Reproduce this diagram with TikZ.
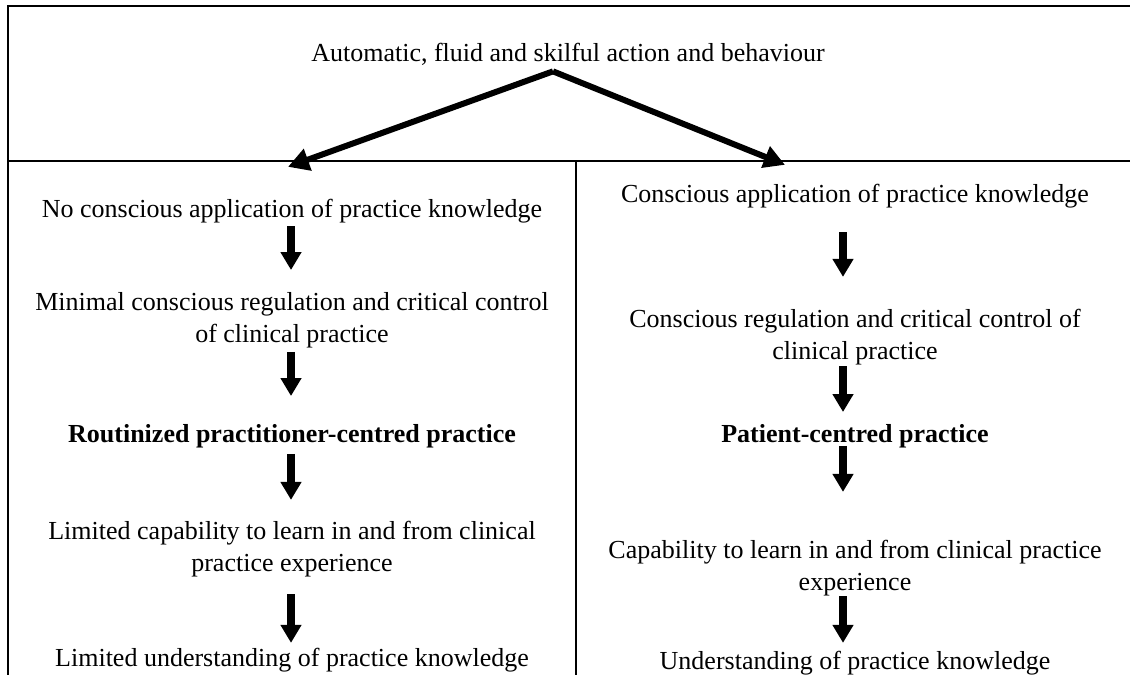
\documentclass[tikz,border=0pt]{standalone}
\usepackage{fontspec}
\setmainfont{Liberation Serif}
\usetikzlibrary{arrows.meta}
\begin{document}
\begin{tikzpicture}[x=1pt,y=-1pt,
  txt/.style={inner sep=0pt,align=center,font=\fontsize{26}{32}\selectfont},
  frame/.style={line width=2.6pt},
  bigarrow/.style={line width=6pt,-{Triangle[length=21pt,width=22pt]}},
  flow/.style={line width=8pt,-{Triangle[length=18pt,width=20pt]}}]
\useasboundingbox (0,0) rectangle (1130,675);
% frame
\draw[frame] (1130,6) -- (8,6) -- (8,675);
\draw[frame] (8,161) -- (1130,161);
\draw[frame] (576,161) -- (576,675);
% title
\node[txt] (top) at (568,54) {Automatic, fluid and skilful action and behaviour};
% left column
\node[txt] (l1) at (292,211) {No conscious application of practice knowledge};
\node[txt] (l2) at (292,320) {Minimal conscious regulation and critical control\\of clinical practice};
\node[txt] (l3) at (292,436) {\bfseries Routinized practitioner-centred practice};
\node[txt] (l4) at (292,549) {Limited capability to learn in and from clinical\\practice experience};
\node[txt] (l5) at (292,660) {Limited understanding of practice knowledge};
% right column
\node[txt] (r1) at (855,196) {Conscious application of practice knowledge};
\node[txt] (r2) at (855,337) {Conscious regulation and critical control of\\clinical practice};
\node[txt] (r3) at (855,436) {\bfseries Patient-centred practice};
\node[txt] (r4) at (855,568) {Capability to learn in and from clinical practice\\experience};
\node[txt] (r5) at (855,663) {Understanding of practice knowledge};
% diagonal arrows
\draw[bigarrow] ([xshift=-15pt,yshift=-6pt]top.south) -- ([xshift=-4pt,yshift=32pt]l1.north);
\draw[bigarrow] ([xshift=-15pt,yshift=-6pt]top.south) -- ([xshift=-70pt,yshift=19pt]r1.north);
% left flow
\draw[flow,shorten <=3pt,shorten >=22pt] ([xshift=-1pt]l1.south) -- ([xshift=-1pt]l2.north);
\draw[flow,shorten <=4pt,shorten >=28pt] ([xshift=-1pt]l2.south) -- ([xshift=-1pt]l3.north);
\draw[flow,shorten <=6pt,shorten >=21pt] ([xshift=-1pt]l3.south) -- ([xshift=-1pt]l4.north);
\draw[flow,shorten <=17pt,shorten >=5pt] ([xshift=-1pt]l4.south) -- ([xshift=-1pt]l5.north);
% right flow
\draw[flow,shorten <=24pt,shorten >=32pt] ([xshift=-12pt]r1.south) -- ([xshift=-12pt]r2.north);
\draw[flow,shorten <=1pt,shorten >=12pt] ([xshift=-12pt]r2.south) -- ([xshift=-12pt]r3.north);
\draw[flow,shorten <=-2pt,shorten >=48pt] ([xshift=-12pt]r3.south) -- ([xshift=-12pt]r4.north);
\draw[flow,shorten <=0pt,shorten >=8pt] ([xshift=-12pt]r4.south) -- ([xshift=-12pt]r5.north);
\end{tikzpicture}
\end{document}
